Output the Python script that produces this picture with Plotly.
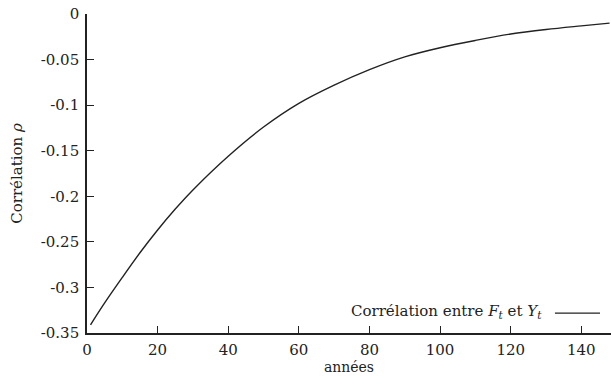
import plotly.graph_objects as go

# Correlation between F_t and Y_t over time
years = [1, 5, 10, 15, 20, 25, 30, 40, 50, 60, 70, 80, 90, 100, 110, 120, 130, 140, 148]
rho = [-0.341, -0.317, -0.289, -0.262, -0.237, -0.214, -0.193, -0.156, -0.124,
       -0.098, -0.078, -0.061, -0.047, -0.037, -0.029, -0.022, -0.017, -0.013, -0.010]

x_ticks = [0, 20, 40, 60, 80, 100, 120, 140]
y_ticks = [0, -0.05, -0.1, -0.15, -0.2, -0.25, -0.3, -0.35]
y_labels = ["0", "-0.05", "-0.1", "-0.15", "-0.2", "-0.25", "-0.3", "-0.35"]

FONT = "DejaVu Serif"
INK = "#222222"

fig = go.Figure(
    go.Scatter(
        x=years,
        y=rho,
        mode="lines",
        line=dict(color=INK, width=1.4, shape="spline", smoothing=1.0),
        showlegend=False,
    )
)

# legend drawn by hand: text then line sample on the right
fig.add_annotation(
    x=0.872, y=0.068, xref="paper", yref="paper",
    xanchor="right", yanchor="middle",
    text="Corrélation entre <i>F<sub>t</sub></i> et <i>Y<sub>t</sub></i>",
    showarrow=False, font=dict(family=FONT, size=15, color=INK),
)
fig.add_shape(
    type="line", xref="paper", yref="paper",
    x0=0.893, x1=0.979, y0=0.062, y1=0.062,
    line=dict(color=INK, width=1.3),
)

fig.update_layout(
    width=611,
    height=387,
    autosize=False,
    margin=dict(l=87, r=0, t=14, b=54),
    paper_bgcolor="white",
    plot_bgcolor="white",
    font=dict(family=FONT, size=15, color=INK),
    xaxis=dict(
        range=[0, 148.4],
        tickvals=x_ticks,
        ticks="inside", ticklen=7, tickwidth=1.3, tickcolor=INK,
        showline=True, linecolor=INK, linewidth=1.6,
        showgrid=False, zeroline=False,
        ticklabelstandoff=2,
        ticklabeloverflow="allow",
        automargin=False,
        title=dict(text="années", font=dict(size=14), standoff=3),
    ),
    yaxis=dict(
        range=[-0.35, 0],
        tickvals=y_ticks,
        ticktext=y_labels,
        ticks="inside", ticklen=7, tickwidth=1.3, tickcolor=INK,
        showline=True, linecolor=INK, linewidth=1.6,
        showgrid=False, zeroline=False,
        ticklabelstandoff=3,
        ticklabeloverflow="allow",
        automargin=False,
        title=dict(text="Corrélation <i>ρ</i>", font=dict(size=15), standoff=14),
    ),
)

# drop the page's default body margin so the figure sits at the window corner
fig.write_html(
    "out.html",
    config={"displayModeBar": False},
    post_script="document.body.style.margin = '0';",
)
